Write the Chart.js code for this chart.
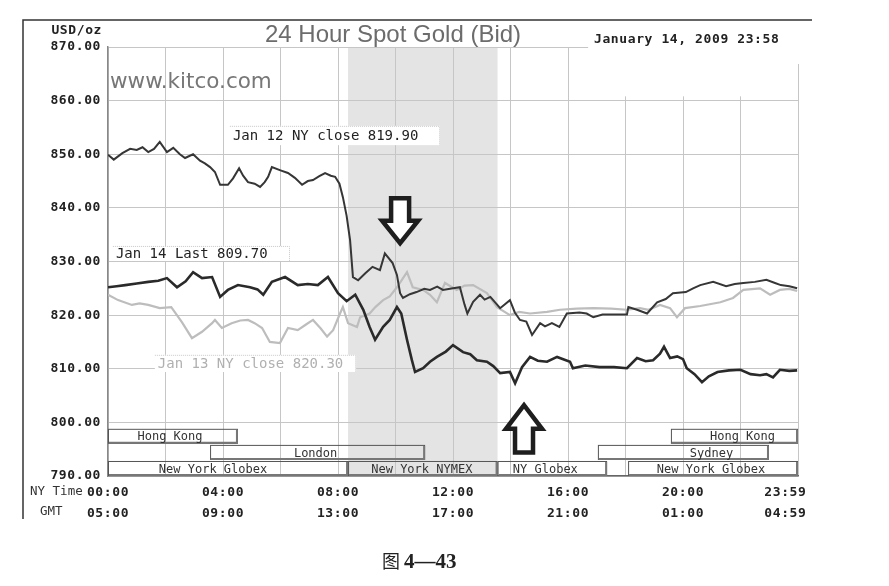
<!DOCTYPE html>
<html>
<head>
<meta charset="utf-8">
<title>24 Hour Spot Gold (Bid)</title>
<script src="https://cdn.jsdelivr.net/npm/chart.js@4.4.1/dist/chart.umd.min.js"></script>
<style>
  html, body { margin: 0; padding: 0; background: #fff; }
  #wrap { position: relative; width: 889px; height: 586px; }
</style>
</head>
<body>
<div id="wrap"><canvas id="gold-chart"></canvas></div>
<script>
// Values (NY time in hours, USD/oz)
const jan12Hours = [0, 0.2, 0.5, 0.77, 1.0, 1.2, 1.4, 1.6, 1.8, 2.05, 2.27, 2.5, 2.68, 2.96, 3.2, 3.37, 3.55, 3.72, 3.9, 4.17,
  4.35, 4.56, 4.7, 4.87, 5.1, 5.29, 5.45, 5.57, 5.7, 6.0, 6.26, 6.5, 6.75, 6.95, 7.13, 7.35, 7.55, 7.75, 7.9, 8.05,
  8.17, 8.3, 8.42, 8.52, 8.7, 8.95, 9.2, 9.46, 9.63, 9.9, 10.05, 10.16, 10.26, 10.5, 10.73, 11.0, 11.2, 11.45, 11.65, 12.0,
  12.24, 12.4, 12.5, 12.7, 12.94, 13.1, 13.3, 13.64, 13.98, 14.15, 14.33, 14.55, 14.75, 15.03, 15.2, 15.44, 15.7, 15.96, 16.4, 16.65,
  16.88, 17.2, 17.6, 18.05, 18.1, 18.4, 18.75, 19.1, 19.4, 19.65, 20.1, 20.35, 20.6, 21.05, 21.5, 21.8, 22.1, 22.5, 22.9, 23.2,
  23.4, 23.7, 23.97];
const jan12Values = [849.9, 849.0, 850.2, 851.0, 850.8, 851.3, 850.4, 851.0, 852.3, 850.4, 851.2, 850.0, 849.3, 850.0, 848.8, 848.3, 847.6, 846.7, 844.3, 844.3,
  845.5, 847.4, 846.0, 844.8, 844.5, 843.9, 844.8, 845.8, 847.6, 847.0, 846.5, 845.6, 844.3, 845.0, 845.2, 845.9, 846.5, 846.0, 845.8, 844.5,
  842.0, 838.5, 834.0, 827.1, 826.5, 827.8, 829.0, 828.4, 831.5, 829.7, 827.5, 824.1, 823.2, 823.9, 824.3, 824.9, 824.7, 825.3, 824.7, 825.0,
  825.2, 822.0, 820.3, 822.5, 823.8, 822.9, 823.4, 821.3, 822.8, 820.5, 819.1, 818.8, 816.3, 818.5, 817.9, 818.5, 817.8, 820.3, 820.5, 820.3,
  819.6, 820.1, 820.1, 820.1, 821.5, 821.0, 820.3, 822.4, 823.0, 824.1, 824.3, 825.0, 825.6, 826.2, 825.4, 825.8, 826.0, 826.2, 826.6, 826.0,
  825.6, 825.4, 825.0];

const jan13Hours = [0, 0.35, 0.83, 1.1, 1.4, 1.8, 2.2, 2.57, 2.92, 3.27, 3.62, 3.72, 3.96, 4.3, 4.6, 4.87, 5.1, 5.36, 5.63, 5.98,
  6.26, 6.6, 6.9, 7.13, 7.4, 7.62, 7.83, 8.07, 8.17, 8.35, 8.66, 8.77, 9.1, 9.3, 9.57, 9.8, 10.05, 10.4, 10.6, 10.96,
  11.2, 11.44, 11.72, 12.13, 12.4, 12.7, 13.18, 13.53, 13.98, 14.3, 14.68, 15.27, 15.72, 16.3, 16.88, 17.5, 18.05, 18.5, 18.8, 19.2,
  19.55, 19.79, 20.07, 20.6, 21.3, 21.74, 22.1, 22.68, 23.03, 23.37, 23.7, 23.97];
const jan13Values = [823.8, 822.8, 821.9, 822.2, 821.9, 821.3, 821.5, 818.7, 815.7, 816.9, 818.5, 819.1, 817.6, 818.5, 819.0, 819.1, 818.5, 817.6, 815.0, 814.8,
  817.6, 817.2, 818.3, 819.1, 817.5, 816.0, 817.2, 820.3, 821.5, 818.5, 817.8, 819.6, 820.3, 821.5, 822.8, 823.5, 825.2, 828.0, 825.2, 824.7,
  823.8, 822.4, 826.0, 824.7, 825.5, 825.6, 824.1, 821.5, 820.0, 820.6, 820.3, 820.6, 821.0, 821.2, 821.3, 821.2, 821.0, 821.3, 821.0, 821.9,
  821.3, 819.6, 821.3, 821.7, 822.4, 823.2, 824.7, 825.0, 823.8, 824.7, 824.9, 824.5];

const jan14Hours = [0, 0.3, 0.6, 1.0, 1.4, 1.75, 2.05, 2.4, 2.7, 2.96, 3.27, 3.62, 3.9, 4.17, 4.52, 4.94, 5.2, 5.4, 5.7, 6.16,
  6.6, 6.95, 7.3, 7.65, 8.0, 8.3, 8.6, 8.88, 9.1, 9.29, 9.57, 9.8, 10.05, 10.2, 10.4, 10.57, 10.68, 10.96, 11.2, 11.44,
  11.75, 12.0, 12.35, 12.6, 12.83, 13.18, 13.4, 13.64, 13.98, 14.16, 14.4, 14.68, 14.95, 15.27, 15.62, 16.07, 16.17, 16.6, 17.1, 17.6,
  18.05, 18.4, 18.7, 18.96, 19.2, 19.34, 19.55, 19.8, 20.0, 20.13, 20.4, 20.66, 20.9, 21.2, 21.6, 22.0, 22.35, 22.68, 22.9, 23.13,
  23.37, 23.7, 23.97];
const jan14Values = [825.2, 825.4, 825.6, 825.9, 826.2, 826.4, 826.9, 825.2, 826.3, 828.0, 826.9, 827.1, 823.4, 824.7, 825.6, 825.2, 824.8, 823.8, 826.2, 827.1,
  825.6, 825.8, 825.6, 827.1, 824.1, 822.6, 823.8, 821.0, 817.8, 815.4, 817.8, 819.1, 821.5, 820.3, 815.4, 811.6, 809.4, 810.1, 811.3, 812.2,
  813.2, 814.4, 813.1, 812.7, 811.6, 811.3, 810.5, 809.2, 809.4, 807.3, 810.3, 812.2, 811.5, 811.3, 812.2, 811.3, 810.1, 810.6, 810.3, 810.3,
  810.1, 812.0, 811.4, 811.6, 812.8, 814.1, 812.0, 812.3, 811.8, 810.1, 809.0, 807.5, 808.6, 809.4, 809.7, 809.8, 809.0, 808.8, 809.0, 808.4,
  809.8, 809.6, 809.7];

// axis labels
const yTicks = [790, 800, 810, 820, 830, 840, 850, 860, 870];
const xGridHours = [0, 2, 4, 6, 8, 10, 12, 14, 16, 18, 20, 22, 24];
const nyTimeLabels = { 0: '00:00', 4: '04:00', 8: '08:00', 12: '12:00', 16: '16:00', 20: '20:00', 24: '23:59' };
const gmtLabels = { 0: '05:00', 4: '09:00', 8: '13:00', 12: '17:00', 16: '21:00', 20: '01:00', 24: '04:59' };

// trading sessions: name, start hour, end hour, row (0 = top)
const sessionNames = ['Hong Kong', 'London', 'New York Globex', 'New York NYMEX', 'NY Globex', 'New York Globex', 'Sydney', 'Hong Kong'];
const sessionStart = [0, 3.55, 0, 8.35, 13.55, 18.09, 17.04, 19.58];
const sessionEnd = [4.52, 11.03, 8.35, 13.55, 17.36, 24, 22.99, 24];
const sessionRow = [0, 1, 2, 2, 2, 2, 1, 0];

const nymexStart = 8.35;
const nymexEnd = 13.55;

const MONO = '"DejaVu Sans Mono", "Liberation Mono", monospace';

function toPoints(hours, values) {
  return hours.map((h, i) => ({ x: h, y: values[i] }));
}

// label offsets inside session boxes (px from box centre)
const sessionTextShift = [-3, -2, -15, -1, -7, -2, 28, 8];

const decorPlugin = {
  id: 'decor',
  beforeDraw(chart) {
    const { ctx, chartArea: a, scales: { x, y } } = chart;
    ctx.save();
    // NYMEX shading
    ctx.fillStyle = '#e4e4e4';
    const x0 = x.getPixelForValue(nymexStart), x1 = x.getPixelForValue(nymexEnd);
    ctx.fillRect(x0, a.top, x1 - x0, a.bottom - a.top);
    ctx.restore();
    ctx.letterSpacing = '0.6px';
  },
  beforeDatasetsDraw(chart) {
    const { ctx, chartArea: a, scales: { x, y } } = chart;
    ctx.save();
    // top right area has no grid in the original
    ctx.fillStyle = '#fff';
    const xr = x.getPixelForValue(16.7);
    ctx.fillRect(xr, a.top - 2, a.right - xr - 1.5, y.getPixelForValue(860.8) - a.top + 2);
    ctx.fillRect(a.right - 2, a.top - 2, 4, 19);

    // session boxes
    const rowTop = [798.8, 795.8, 792.8];
    const rowBot = [796.0, 793.0, 790.0];
    ctx.letterSpacing = '0px';
    ctx.font = '12px ' + MONO;
    ctx.textAlign = 'center';
    ctx.textBaseline = 'middle';
    sessionNames.forEach((name, i) => {
      const l = x.getPixelForValue(sessionStart[i]);
      const r = x.getPixelForValue(sessionEnd[i]);
      const t = y.getPixelForValue(rowTop[sessionRow[i]]);
      const b = y.getPixelForValue(rowBot[sessionRow[i]]);
      ctx.strokeStyle = '#555';
      ctx.lineWidth = 1;
      ctx.strokeRect(l + 0.5, t + 0.5, r - l - 1, b - t - 1);
      ctx.strokeStyle = '#777';
      ctx.lineWidth = 2;
      ctx.beginPath();
      ctx.moveTo(l + 1, b - 1);
      ctx.lineTo(r - 1, b - 1);
      ctx.lineTo(r - 1, t + 1);
      ctx.stroke();
      ctx.fillStyle = '#333';
      ctx.fillText(name, (l + r) / 2 + sessionTextShift[i], (t + b) / 2 + 1);
    });
    ctx.restore();
  },
  afterDatasetsDraw(chart) {
    const { ctx, chartArea: a, scales: { x, y } } = chart;
    ctx.save();
    ctx.letterSpacing = '0px';

    // value boxes
    const boxes = [
      { text: 'Jan 12 NY close 819.90', h0: 4.24, h1: 11.55, v0: 855.3, v1: 851.7, color: '#222' },
      { text: 'Jan 14 Last 809.70', h0: 0.17, h1: 6.33, v0: 832.9, v1: 830.1, color: '#222' },
      { text: 'Jan 13 NY close 820.30', h0: 1.63, h1: 8.63, v0: 812.6, v1: 809.4, color: '#b0b0b0' }
    ];
    ctx.font = '14px ' + MONO;
    ctx.textBaseline = 'middle';
    ctx.textAlign = 'left';
    boxes.forEach(bx => {
      const l = x.getPixelForValue(bx.h0), r = x.getPixelForValue(bx.h1);
      const t = y.getPixelForValue(bx.v0), b = y.getPixelForValue(bx.v1);
      ctx.fillStyle = '#fff';
      ctx.fillRect(l, t, r - l, b - t);
      ctx.strokeStyle = '#c8c8c8';
      ctx.lineWidth = 1;
      ctx.setLineDash([1, 1]);
      ctx.beginPath();
      ctx.moveTo(l, t + 0.5);
      ctx.lineTo(r - 0.5, t + 0.5);
      ctx.lineTo(r - 0.5, b);
      ctx.stroke();
      ctx.setLineDash([]);
      ctx.fillStyle = bx.color;
      ctx.fillText(bx.text, l + 3, (t + b) / 2 + 1);
    });

    // arrows
    function arrow(cx, yBase, yTip) {
      const dir = yTip > yBase ? 1 : -1;
      const len = Math.abs(yTip - yBase);
      const headLen = len * 0.5;
      const yNeck = yTip - dir * headLen;
      ctx.beginPath();
      ctx.moveTo(cx - 9, yBase);
      ctx.lineTo(cx + 9, yBase);
      ctx.lineTo(cx + 9, yNeck);
      ctx.lineTo(cx + 18, yNeck);
      ctx.lineTo(cx, yTip);
      ctx.lineTo(cx - 18, yNeck);
      ctx.lineTo(cx - 9, yNeck);
      ctx.closePath();
      ctx.fillStyle = '#fff';
      ctx.fill();
      ctx.strokeStyle = '#1e1e1e';
      ctx.lineWidth = 4.5;
      ctx.lineJoin = 'miter';
      ctx.stroke();
    }
    arrow(x.getPixelForValue(10.16), y.getPixelForValue(841.8), y.getPixelForValue(833.4));
    arrow(x.getPixelForValue(14.47), y.getPixelForValue(794.4), y.getPixelForValue(803.2));
    ctx.restore();
  },
  afterDraw(chart) {
    const { ctx, chartArea: a } = chart;
    ctx.save();
    ctx.letterSpacing = '0px';

    // frame
    ctx.strokeStyle = '#333';
    ctx.lineWidth = 1.5;
    ctx.beginPath();
    ctx.moveTo(812, 20);
    ctx.lineTo(23, 20);
    ctx.lineTo(23, 519);
    ctx.stroke();

    // title
    ctx.fillStyle = '#6c6c6c';
    ctx.font = '24px "Liberation Sans", Arial, sans-serif';
    ctx.textAlign = 'center';
    ctx.textBaseline = 'alphabetic';
    ctx.fillText('24 Hour Spot Gold (Bid)', 393, 42);

    ctx.fillStyle = '#777';
    ctx.font = '21.5px "DejaVu Sans", Verdana, sans-serif';
    ctx.textAlign = 'left';
    ctx.fillText('www.kitco.com', 110, 88);

    ctx.letterSpacing = '0.6px';
    ctx.fillStyle = '#222';
    ctx.font = 'bold 13px ' + MONO;
    ctx.textBaseline = 'middle';
    ctx.fillText('January 14, 2009 23:58', 594, 40);
    ctx.textAlign = 'right';
    ctx.fillText('USD/oz', 102, 31);

    ctx.letterSpacing = '0px';
    ctx.font = '12.5px ' + MONO;
    ctx.fillStyle = '#333';
    ctx.textAlign = 'left';
    ctx.fillText('NY Time', 30, 492);
    ctx.fillText('GMT', 40, 512);

    // caption
    ctx.fillStyle = '#222';
    ctx.textBaseline = 'alphabetic';
    ctx.font = '18px "Noto Sans CJK SC", sans-serif';
    ctx.fillText('图', 382, 568);
    ctx.font = 'bold 21px "Liberation Serif", serif';
    ctx.fillText('4—43', 404, 568);
    ctx.restore();
  }
};

const ctx = document.getElementById('gold-chart').getContext('2d');
const chart = new Chart(ctx, {
  type: 'line',
  data: {
    datasets: [
      {
        label: 'Jan 14',
        data: toPoints(jan14Hours, jan14Values),
        borderColor: '#2a2a2a',
        borderWidth: 2.6,
        pointRadius: 0,
        tension: 0,
        order: 1
      },
      {
        label: 'Jan 12',
        data: toPoints(jan12Hours, jan12Values),
        borderColor: '#363636',
        borderWidth: 2,
        pointRadius: 0,
        tension: 0,
        order: 2
      },
      {
        label: 'Jan 13',
        data: toPoints(jan13Hours, jan13Values),
        borderColor: '#bdbdbd',
        borderWidth: 2.2,
        pointRadius: 0,
        tension: 0,
        order: 3
      }
    ]
  },
  options: {
    responsive: true,
    maintainAspectRatio: false,
    animation: false,
    layout: { padding: { top: 47, right: 91, bottom: 0, left: 0 } },
    plugins: {
      legend: { display: false },
      tooltip: { enabled: false },
      title: { display: false }
    },
    scales: {
      x: {
        type: 'linear',
        min: 0,
        max: 24,
        afterBuildTicks: (scale) => { scale.ticks = xGridHours.map(v => ({ value: v })); },
        afterFit: (scale) => { scale.height = 110; },
        grid: { color: '#c6c6c6', lineWidth: 1, drawTicks: false },
        border: { display: true, color: '#666', width: 1.5 },
        ticks: {
          autoSkip: false,
          maxRotation: 0,
          padding: 6,
          color: '#222',
          font: { family: MONO, size: 13, weight: 'bold', lineHeight: 1.6 },
          callback: (v) => {
            if (!(v in nyTimeLabels)) return '';
            const pad = v === 24 ? '   ' : '';
            return [nyTimeLabels[v] + pad, gmtLabels[v] + pad];
          }
        }
      },
      y: {
        min: 790,
        max: 870,
        afterBuildTicks: (scale) => { scale.ticks = yTicks.map(v => ({ value: v })); },
        afterFit: (scale) => { scale.width = 108; },
        grid: { color: '#c6c6c6', lineWidth: 1, drawTicks: false },
        border: { display: true, color: '#888', width: 1.5 },
        ticks: {
          padding: 7,
          color: '#222',
          font: { family: MONO, size: 13, weight: 'bold' },
          callback: (v) => v.toFixed(2)
        }
      }
    }
  },
  plugins: [decorPlugin]
});
</script>
</body>
</html>
